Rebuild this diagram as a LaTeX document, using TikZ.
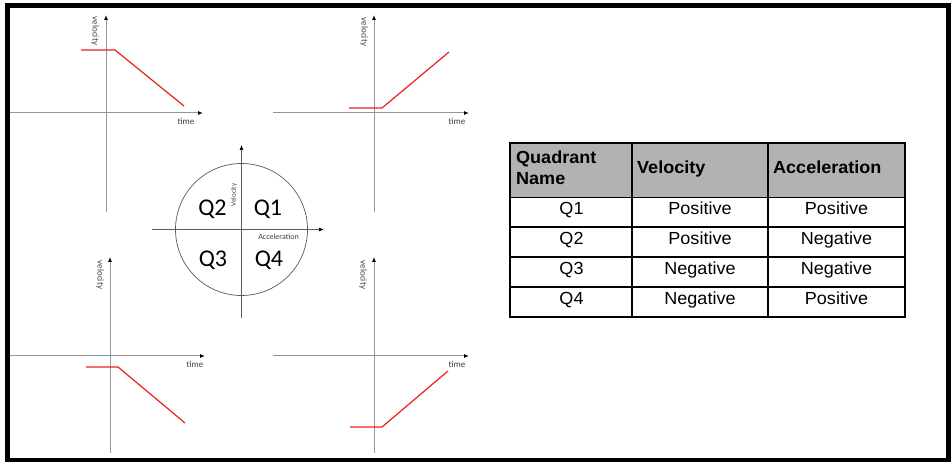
\documentclass[tikz,border=0pt]{standalone}
\usepackage{fontspec}
\usepackage{xcolor}
\usepackage{tikz}
\usetikzlibrary{arrows.meta}
\newfontfamily\arialfont{Liberation Sans}
\newfontfamily\calfont{Carlito}
\definecolor{axGray}{RGB}{150,150,150}
\definecolor{circGray}{RGB}{90,90,90}
\definecolor{vRed}{RGB}{235,30,30}
\definecolor{headGray}{RGB}{178,178,178}

\begin{document}
\begin{tikzpicture}[x=1pt, y=-1pt,
  axis/.style={axGray, line width=1pt, -{Latex[length=5pt,width=4pt,black]}},
  caxis/.style={circGray, line width=0.7pt, -{Latex[length=5pt,width=4pt,black]}},
  vline/.style={vRed, line width=1.2pt},
  axlbl/.style={font=\calfont\fontsize{9}{10}\selectfont, text=black!75, inner sep=0pt},
  quad/.style={font=\calfont\fontsize{24}{26}\selectfont, inner sep=0pt, anchor=base},
  cell/.style={font=\arialfont\fontsize{17.5}{19}\selectfont, inner sep=0pt,
    anchor=base, xscale=1.03},
  headcell/.style={font=\arialfont\bfseries\fontsize{17.5}{21.7}\selectfont,
    inner sep=0pt, align=left, anchor=base west, xscale=1.03}]
  \useasboundingbox (0,0) rectangle (951,462);

  % Outer frame
  \draw[line width=5pt] (7.5,5.5) rectangle (948,460);

  % Top left: Q2
  \coordinate (tlO) at (106,113);
  \draw[axis] (10,113) -- (203,113);
  \draw[axis] (106,212) -- (106,15);
  \node[axlbl] (tlT) at (186,121) {time};
  \node[axlbl, rotate=-90] (tlV) at (95,31) {velocity};
  \draw[vline] (81,50) -- (115,50) -- (184,106);

  % Top right: Q1
  \coordinate (trO) at (374,113);
  \draw[axis] (273,113) -- (469,113);
  \draw[axis] (374,212) -- (374,15);
  \node[axlbl] (trT) at (457,121) {time};
  \node[axlbl, rotate=-90] (trV) at (364,32) {velocity};
  \draw[vline] (349,108) -- (382,108) -- (449,52);

  % Bottom left: Q3
  \coordinate (blO) at (110,356);
  \draw[axis] (10,356) -- (205,356);
  \draw[axis] (110,453) -- (110,257);
  \node[axlbl] (blT) at (195,364) {time};
  \node[axlbl, rotate=-90] (blV) at (100,275) {velocity};
  \draw[vline] (86,367) -- (118,367) -- (185,423);

  % Bottom right: Q4
  \coordinate (brO) at (374,356);
  \draw[axis] (273,356) -- (469,356);
  \draw[axis] (374,453) -- (374,257);
  \node[axlbl] (brT) at (457,364) {time};
  \node[axlbl, rotate=-90] (brV) at (363,275) {velocity};
  \draw[vline] (350,427) -- (382,427) -- (448,371);

  % Quadrant circle
  \coordinate (cO) at (241.5,229.5);
  \draw[circGray, line width=0.7pt] (cO) circle[radius=66];
  \draw[caxis] (152,229.5) -- (324,229.5);
  \draw[caxis] (241.5,318) -- (241.5,145);
  \node[quad] (q2) at (212.5,216) {Q2};
  \node[quad] (q1) at (268,216) {Q1};
  \node[quad] (q3) at (213,266.5) {Q3};
  \node[quad] (q4) at (269,266.5) {Q4};
  \node[axlbl, font=\calfont\fontsize{7}{8}\selectfont, rotate=90] (cV) at (234,195) {Velocity};
  \node[axlbl, font=\calfont\fontsize{8}{9}\selectfont] (cA) at (278.5,236.5) {Acceleration};

  % Table
  \fill[headGray] (510,143) rectangle (905,197.5);
  \foreach \yy in {197.5,227,257,287} {
    \draw[line width=1.2pt] (510,\yy) -- (905,\yy);
  }
  \draw[line width=1.2pt] (632,143) -- (632,317);
  \draw[line width=1.2pt] (768,143) -- (768,317);
  \draw[line width=2.2pt] (510,143) rectangle (905,317);

  \node[headcell] (hQ) at (516,185) {Quadrant\\Name};
  \node[headcell] (hV) at (637,173.5) {Velocity};
  \node[headcell] (hA) at (773,173.5) {Acceleration};

  \foreach \q/\v/\a/\yy in {Q1/Positive/Positive/215, Q2/Positive/Negative/245,
                            Q3/Negative/Negative/275, Q4/Negative/Positive/304.5} {
    \node[cell] (n\q) at (571.5,\yy) {\q};
    \node[cell] (v\q) at (700,\yy) {\v};
    \node[cell] (a\q) at (836.5,\yy) {\a};
  }
\end{tikzpicture}
\end{document}
